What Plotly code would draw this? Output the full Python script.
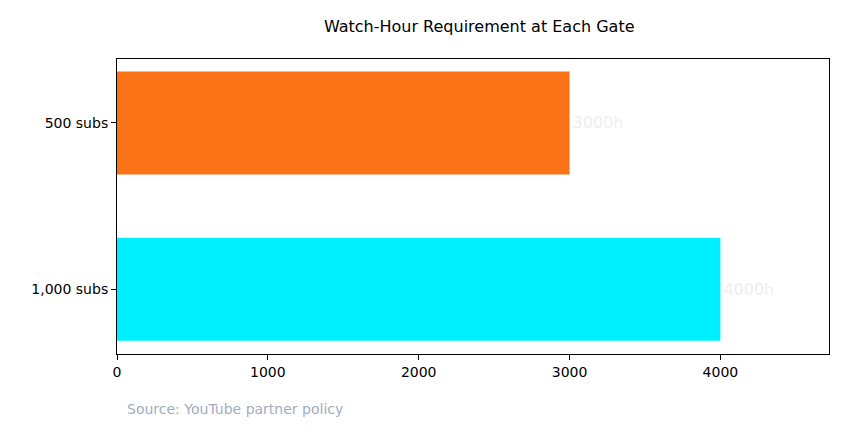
import plotly.graph_objects as go

categories = ["1,000 subs", "500 subs"]
hours = [4000, 3000]
labels = ["4000h", "3000h"]
colors = ["#00f0ff", "#f97316"]

fig = go.Figure()
fig.add_trace(go.Bar(
    x=hours, y=categories, orientation="h",
    marker=dict(color=colors, line=dict(width=0)),
    width=0.62,
    text=labels, textposition="outside",
    textfont=dict(color="#eeeeee", size=16),
    cliponaxis=False,
))

fig.update_layout(
    width=849, height=435,
    margin=dict(l=109, r=28, t=51, b=89),
    paper_bgcolor="white", plot_bgcolor="white",
    font=dict(family="DejaVu Sans", size=14, color="black"),
    title=dict(text="Watch-Hour Requirement at Each Gate", x=0.555, y=0.97,
               xanchor="center", font=dict(size=16)),
    showlegend=False,
)
fig.update_xaxes(range=[0, 4720], tickvals=[0, 1000, 2000, 3000, 4000],
                 showgrid=False, zeroline=False, showline=True, linecolor="black",
                 mirror=True, ticks="outside", ticklen=5, tickcolor="black")
fig.update_yaxes(range=[-0.39, 1.385], showgrid=False, zeroline=False,
                 showline=True, linecolor="black", mirror=True,
                 ticks="outside", ticklen=5, tickcolor="black")

fig.add_annotation(text="Source: YouTube partner policy", xref="paper", yref="paper",
                   x=0.011, y=-0.186, xanchor="left", yanchor="middle", showarrow=False,
                   font=dict(size=14, color="#a0aec0"))

fig.write_html("out.html")
